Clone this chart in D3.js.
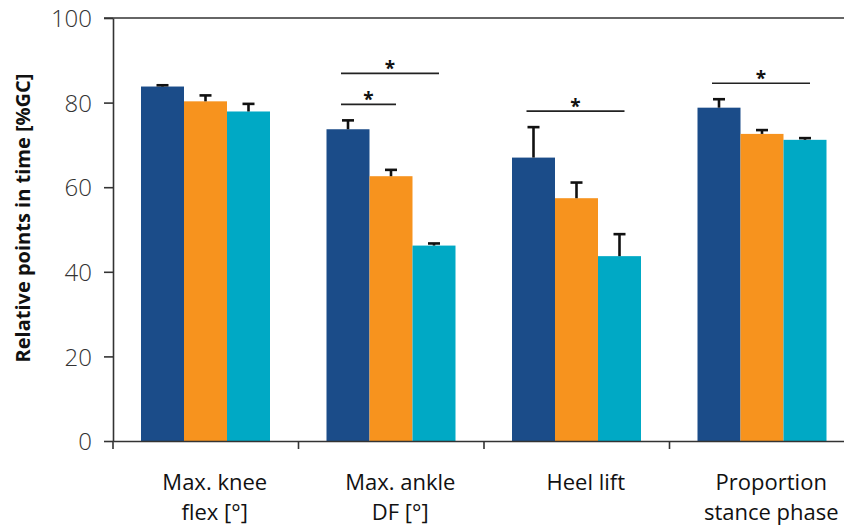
<!DOCTYPE html>
<html>
<head>
<meta charset="utf-8">
<script src="https://cdn.jsdelivr.net/npm/d3@7/dist/d3.min.js"></script>
<style>
  html, body { margin: 0; padding: 0; background: #fff; }
  svg { display: block; }
  text { font-family: "Open Sans", "Noto Sans", sans-serif; }
</style>
</head>
<body>
<svg id="chart" width="844" height="527"></svg>
<script>
// Gait event timing, mean + SD per condition
const categories = ["Max. knee\nflex [°]", "Max. ankle\nDF [°]", "Heel lift", "Proportion\nstance phase"];
const seriesNames = ["Condition 1", "Condition 2", "Condition 3"];
const seriesColors = ["#1b4c89", "#f7931e", "#00a9c5"];

const means1 = [83.8, 73.7, 67.0, 78.8];
const means2 = [80.3, 62.6, 57.4, 72.6];
const means3 = [77.9, 46.2, 43.7, 71.2];
const sd1 = [0.3, 2.1, 7.2, 2.0];
const sd2 = [1.4, 1.5, 3.7, 0.9];
const sd3 = [1.8, 0.5, 5.2, 0.4];

const yTicks = [0, 20, 40, 60, 80, 100];
const yTitle = "Relative points in time [%GC]";

// Significant pairwise differences: category index, series a, series b
const sigCategory = [1, 1, 2, 3];
const sigFrom = [0, 0, 0, 0];
const sigTo = [1, 2, 2, 2];

const means = [means1, means2, means3];
const sds = [sd1, sd2, sd3];
const rows = [];
categories.forEach((c, ci) => {
  seriesNames.forEach((s, si) => {
    rows.push({ cat: c, ci, series: s, si, mean: means[si][ci], sd: sds[si][ci] });
  });
});

const svg = d3.select("#chart");
const x0 = d3.scaleBand().domain(categories).range([113, 855]);
const x1 = d3.scaleBand().domain(seriesNames).range([28, x0.bandwidth() - 28.5]);
const y = d3.scaleLinear().domain([0, 100]).range([441, 18]);

const axisColor = "#333";

// top frame line
svg.append("line")
  .attr("x1", 104).attr("x2", 844)
  .attr("y1", y(100)).attr("y2", y(100))
  .attr("stroke", axisColor).attr("stroke-width", 1.6);

// bars
svg.append("g").selectAll("rect").data(rows).join("rect")
  .attr("x", d => x0(d.cat) + x1(d.series))
  .attr("y", d => y(d.mean))
  .attr("width", x1.bandwidth())
  .attr("height", d => y(0) - y(d.mean))
  .attr("fill", d => seriesColors[d.si]);

// error bars (upper whisker only)
const eb = svg.append("g").attr("stroke", "#111").attr("stroke-width", 2.6);
rows.forEach(d => {
  const cx = x0(d.cat) + x1(d.series) + x1.bandwidth() / 2;
  eb.append("line").attr("x1", cx).attr("x2", cx)
    .attr("y1", y(d.mean)).attr("y2", y(d.mean + d.sd));
  eb.append("line").attr("x1", cx - 6).attr("x2", cx + 6)
    .attr("y1", y(d.mean + d.sd)).attr("y2", y(d.mean + d.sd));
});

// y axis
const yAxis = svg.append("g")
  .attr("transform", "translate(113,0)")
  .call(d3.axisLeft(y).tickValues(yTicks).tickSize(9).tickPadding(12).tickSizeOuter(0));
yAxis.select(".domain").attr("stroke", axisColor).attr("stroke-width", 1.6);
yAxis.selectAll(".tick line").attr("stroke", axisColor).attr("stroke-width", 1.6);
yAxis.selectAll(".tick text")
  .attr("fill", "#333").style("font-size", "24px").style("font-weight", 300)
  .attr("dy", "0.36em");

// x axis
const xAxis = svg.append("g")
  .attr("transform", `translate(0,${y(0)})`)
  .call(d3.axisBottom(x0).tickSize(0).tickFormat(""));
xAxis.select(".domain").attr("stroke", axisColor).attr("stroke-width", 1.6);
xAxis.selectAll(".tick").remove();
categories.forEach(c => {
  svg.append("line")
    .attr("x1", x0(c)).attr("x2", x0(c))
    .attr("y1", y(0)).attr("y2", y(0) + 8)
    .attr("stroke", axisColor).attr("stroke-width", 1.6);
});

// category labels
categories.forEach(c => {
  const lines = c.split("\n");
  const cx = x0(c) + x0.bandwidth() / 2 + 9;
  const t = svg.append("text")
    .attr("x", cx)
    .attr("y", 490)
    .attr("text-anchor", "middle")
    .attr("fill", "#111")
    .style("font-size", "22px");
  lines.forEach((ln, i) => {
    t.append("tspan").attr("x", cx).attr("dy", i === 0 ? 0 : 30).text(ln);
  });
});

// y title
svg.append("text")
  .attr("transform", "translate(30,218) rotate(-90)")
  .attr("text-anchor", "middle")
  .attr("fill", "#111")
  .style("font-size", "20px").style("font-weight", 700)
  .text(yTitle);

// significance brackets, stacked above the tallest whisker in each category
const levelCount = {};
sigCategory.forEach((ci, k) => {
  const lvl = levelCount[ci] || 0;
  levelCount[ci] = lvl + 1;
  const c = categories[ci];
  const topVal = d3.max(seriesNames.map((s, si) => means[si][ci] + sds[si][ci]));
  const ly = y(topVal) - 16 - 31 * lvl;
  const xa = x0(c) + x1(seriesNames[sigFrom[k]]) + x1.bandwidth() / 2 - 7;
  const xb = x0(c) + x1(seriesNames[sigTo[k]]) + x1.bandwidth() / 2 + 5;
  svg.append("line").attr("x1", xa).attr("x2", xb).attr("y1", ly).attr("y2", ly)
    .attr("stroke", "#222").attr("stroke-width", 1.6);
  svg.append("text")
    .attr("x", (xa + xb) / 2).attr("y", ly + 2)
    .attr("text-anchor", "middle").attr("fill", "#111")
    .style("font-size", "19px").style("font-weight", 700)
    .text("*");
});
</script>
</body>
</html>
